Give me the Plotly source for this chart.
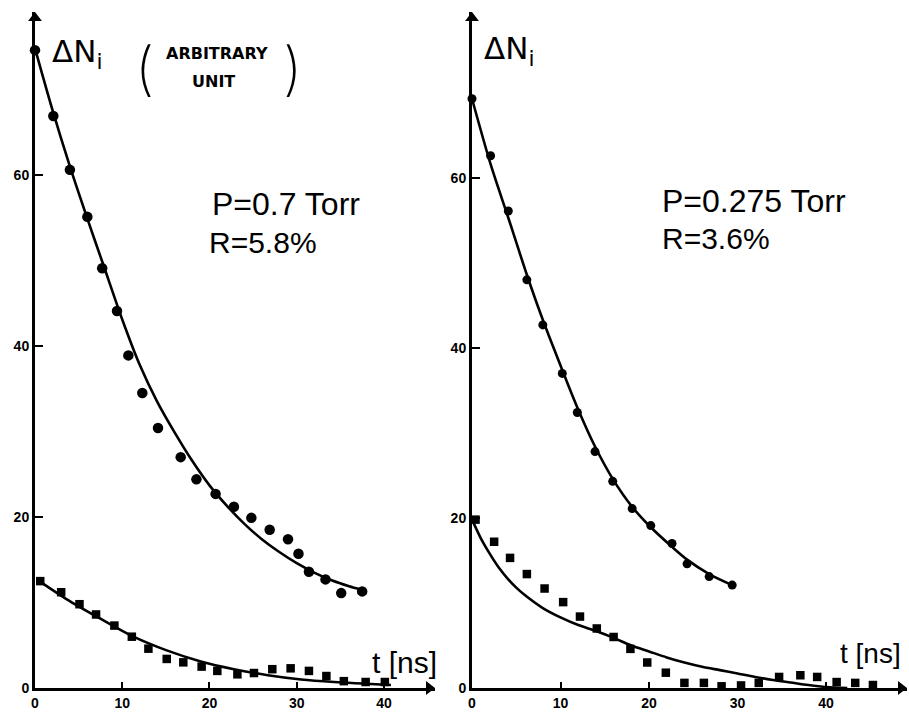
import plotly.graph_objects as go

# ---------------- data ----------------
# Left panel: P = 0.7 Torr
left_circ_t = [0, 2.1, 4.0, 6.0, 7.7, 9.4, 10.7, 12.3, 14.1, 16.7, 18.5, 20.7, 22.8, 24.8, 26.9, 29.0, 30.2, 31.4, 33.3, 35.1, 37.5]
left_circ_n = [74.6, 66.9, 60.6, 55.1, 49.1, 44.1, 38.9, 34.5, 30.4, 27.0, 24.4, 22.7, 21.2, 19.9, 18.5, 17.4, 15.7, 13.6, 12.7, 11.1, 11.3]
left_circ_fit_t = [0, 2, 4, 6, 8, 10, 12, 14, 16, 18, 20, 22, 24, 26, 28, 30, 32, 34, 36, 37.4]
left_circ_fit_n = [74.8, 67.6, 61.0, 54.9, 49.0, 43.1, 37.8, 33.5, 29.9, 26.6, 23.7, 21.3, 19.2, 17.4, 15.9, 14.6, 13.5, 12.6, 11.9, 11.5]

left_sq_t = [0.6, 3.0, 5.1, 7.0, 9.1, 11.1, 13.0, 15.1, 17.0, 19.1, 20.9, 23.2, 25.1, 27.2, 29.3, 31.4, 33.4, 35.4, 37.9, 40.1]
left_sq_n = [12.5, 11.2, 9.8, 8.6, 7.3, 6.0, 4.6, 3.4, 3.0, 2.5, 2.0, 1.6, 1.75, 2.2, 2.3, 2.0, 1.4, 0.8, 0.7, 0.7]
left_sq_fit_t = [0.2, 3.6, 7.5, 11.1, 15.1, 19.0, 22.8, 26.7, 30.5, 34.3, 40.8]
left_sq_fit_n = [12.7, 10.4, 8.1, 6.1, 4.4, 3.1, 2.2, 1.5, 1.0, 0.7, 0.35]

# Right panel: P = 0.275 Torr
right_circ_t = [0, 2.1, 4.1, 6.2, 8.0, 10.2, 11.9, 13.9, 15.9, 18.1, 20.2, 22.6, 24.3, 26.8, 29.4]
right_circ_n = [69.3, 62.6, 56.1, 48.0, 42.7, 37.0, 32.4, 27.8, 24.3, 21.1, 19.1, 17.0, 14.6, 13.1, 12.1]
right_circ_fit_t = [0, 2.1, 4.1, 6.2, 8.0, 10.2, 11.9, 13.9, 15.9, 18.1, 20.2, 22.6, 24.3, 26.8, 29.4]
right_circ_fit_n = [69.3, 61.6, 55.3, 48.6, 43.3, 37.4, 33.0, 28.4, 24.6, 21.3, 18.9, 16.6, 15.1, 13.4, 12.1]

right_sq_t = [0.4, 2.5, 4.3, 6.2, 8.2, 10.3, 12.2, 14.1, 16.0, 17.9, 19.8, 21.9, 24.0, 26.2, 28.2, 30.4, 32.4, 34.7, 37.1, 39.0, 41.2, 43.3, 45.3]
right_sq_n = [19.8, 17.2, 15.3, 13.4, 11.7, 10.1, 8.4, 7.0, 6.0, 4.6, 3.0, 1.8, 0.6, 0.6, 0.2, 0.3, 0.6, 1.3, 1.5, 1.3, 0.7, 0.6, 0.35]
right_sq_fit_t = [0, 1, 2, 3, 4, 5, 6, 8, 10, 12, 14, 16, 18, 20, 22, 24, 26, 28, 30, 32, 34, 36, 38, 40, 42.4]
right_sq_fit_n = [19.8, 17.6, 15.8, 14.2, 12.9, 11.8, 10.9, 9.4, 8.3, 7.4, 6.7, 5.9, 5.0, 4.3, 3.6, 3.0, 2.5, 2.1, 1.7, 1.3, 0.95, 0.65, 0.35, 0.12, 0.0]

x_ticks = [0, 10, 20, 30, 40]
y_ticks = [0, 20, 40, 60]

# ---------------- figure ----------------
W, H = 909, 713
fig = go.Figure()

def add_panel(xa, ya, ct, cn, cft, cfn, st, sn, sft, sfn, csize):
    for ft, fn in [(cft, cfn), (sft, sfn)]:
        fig.add_trace(go.Scatter(x=ft, y=fn, mode="lines",
                                 line=dict(color="black", width=2.6, shape="spline", smoothing=0.8),
                                 xaxis=xa, yaxis=ya, showlegend=False, cliponaxis=False, hoverinfo="skip"))
    fig.add_trace(go.Scatter(x=ct, y=cn, mode="markers", marker=dict(symbol="circle", size=csize, color="black"),
                             xaxis=xa, yaxis=ya, showlegend=False, cliponaxis=False))
    fig.add_trace(go.Scatter(x=st, y=sn, mode="markers", marker=dict(symbol="square", size=8.5, color="black"),
                             xaxis=xa, yaxis=ya, showlegend=False, cliponaxis=False))

add_panel("x", "y", left_circ_t, left_circ_n, left_circ_fit_t, left_circ_fit_n,
          left_sq_t, left_sq_n, left_sq_fit_t, left_sq_fit_n, 10.5)
add_panel("x2", "y2", right_circ_t, right_circ_n, right_circ_fit_t, right_circ_fit_n,
          right_sq_t, right_sq_n, right_sq_fit_t, right_sq_fit_n, 9)

tickfont = dict(family="Liberation Sans", size=14, color="black", weight="bold")
ydom_px = (688, 12)
ydom = [(H - ydom_px[0]) / H, (H - ydom_px[1]) / H]
LXD, RXD = (35, 435), (472, 907)
LX = [0, 45.85]
RX = [0, 49.15]
LY = [0, 79.06]
RY = [0, 79.5]

common_x = dict(showline=True, linewidth=3, linecolor="black", ticks="inside", ticklen=6, tickwidth=2,
                tickcolor="black", tickvals=x_ticks, tickfont=tickfont, showgrid=False, zeroline=False,
                fixedrange=True, automargin=False)
common_y = dict(showline=True, linewidth=3, linecolor="black", ticks="inside", ticklen=8, tickwidth=2,
                tickcolor="black", tickvals=y_ticks, tickfont=tickfont, showgrid=False, zeroline=False,
                domain=ydom, fixedrange=True, automargin=False)

fig.update_layout(
    width=W, height=H,
    margin=dict(l=0, r=0, t=0, b=0, pad=0),
    paper_bgcolor="white", plot_bgcolor="white",
    xaxis=dict(common_x, domain=[LXD[0] / W, LXD[1] / W], range=LX, anchor="y"),
    yaxis=dict(common_y, range=LY, anchor="x"),
    xaxis2=dict(common_x, domain=[RXD[0] / W, RXD[1] / W], range=RX, anchor="y2"),
    yaxis2=dict(common_y, range=RY, anchor="x2"),
    showlegend=False,
)

# axis arrowheads as triangle markers set back by half their size from the axis ends
tri = 12
ypx = ydom_px[0] - ydom_px[1]
for xa, ya, xr, yr, xd in [("x", "y", LX, LY, LXD), ("x2", "y2", RX, RY, RXD)]:
    dx = (tri / 2) * (xr[1] - xr[0]) / (xd[1] - xd[0])
    dy = (tri / 2) * (yr[1] - yr[0]) / ypx
    fig.add_trace(go.Scatter(x=[xr[1] - dx], y=[0], mode="markers", xaxis=xa, yaxis=ya,
                             marker=dict(symbol="triangle-right", size=tri, color="black"),
                             showlegend=False, cliponaxis=False, hoverinfo="skip"))
    fig.add_trace(go.Scatter(x=[0], y=[yr[1] - dy], mode="markers", xaxis=xa, yaxis=ya,
                             marker=dict(symbol="triangle-up", size=tri, color="black"),
                             showlegend=False, cliponaxis=False, hoverinfo="skip"))

def px(x, y):
    return x / W, 1 - y / H

def label(text, x, y, size, xanchor="left", family="Liberation Sans", weight="normal"):
    xx, yy = px(x, y)
    fig.add_annotation(x=xx, y=yy, xref="paper", yref="paper", text=text, showarrow=False,
                       xanchor=xanchor, yanchor="middle",
                       font=dict(family=family, size=size, color="black", weight=weight))

# left panel texts
label("ΔN<sub>i</sub>", 50, 54, 31, family="DejaVu Sans")
label("(", 133, 68, 58, family="Inter", weight=200)
label(")", 304, 68, 58, xanchor="right", family="Inter", weight=200)
label("ARBITRARY", 217, 54, 16, xanchor="center", weight="bold", family="DejaVu Sans")
label("UNIT", 213, 81, 16, xanchor="center", weight="bold", family="DejaVu Sans")
label("P=0.7 Torr", 210, 204, 32)
label("R=5.8%", 207, 242, 30)
label("t [ns]", 370, 662, 30)

# right panel texts
label("ΔN<sub>i</sub>", 482, 50, 31, family="DejaVu Sans")
label("P=0.275 Torr", 660, 201, 32)
label("R=3.6%", 660, 239, 30)
label("t [ns]", 838, 653, 28)

fig.write_html("out.html", config={"displayModeBar": False},
               post_script="document.body.style.margin='0';document.body.style.padding='0';")
